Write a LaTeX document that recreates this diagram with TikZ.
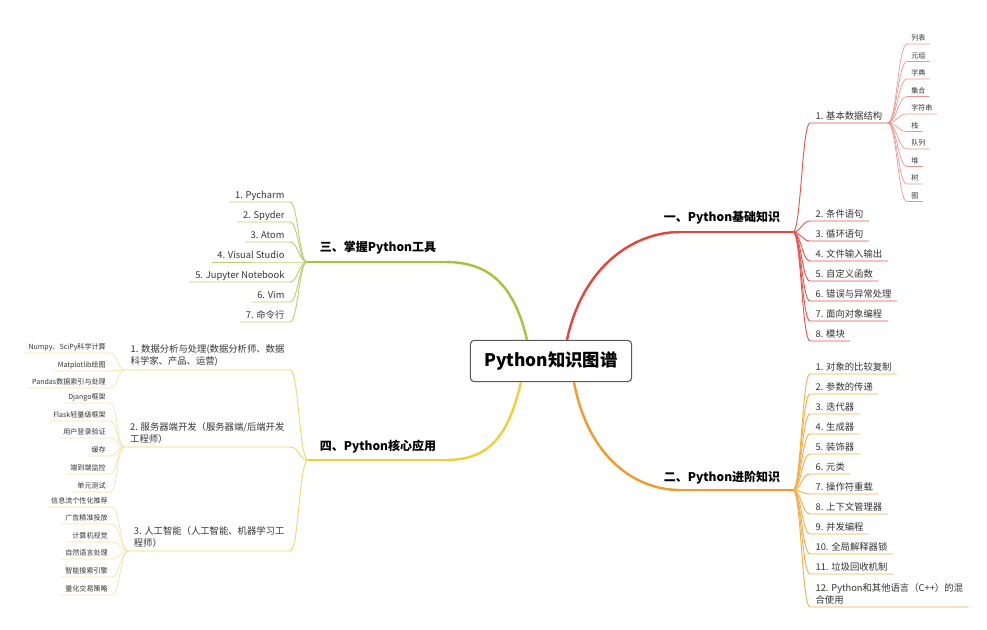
\documentclass[tikz,border=0pt]{standalone}
\usepackage{fontspec}
\setmainfont{Noto Sans CJK SC}
\usetikzlibrary{calc}

\definecolor{redMain}{HTML}{E64539}
\definecolor{redItem}{HTML}{E4574F}
\definecolor{redLeaf}{HTML}{EC9590}
\definecolor{orgMain}{HTML}{F29A2E}
\definecolor{orgItem}{HTML}{F4AE4C}
\definecolor{grnMain}{HTML}{A4C23A}
\definecolor{grnItem}{HTML}{BACF6E}
\definecolor{ylwMain}{HTML}{F0CE3B}
\definecolor{ylwItem}{HTML}{F2D66E}
\definecolor{ylwLeaf}{HTML}{F5E2A6}

\begin{document}
\begin{tikzpicture}[x=0.75pt,y=-0.75pt,
	title/.style={draw=black!65, fill=white, rounded corners=3pt, line width=0.8pt, minimum width=121pt, minimum height=31pt, font=\fontsize{13}{15}\selectfont\bfseries},
	branch/.style={font=\fontsize{9}{11}\selectfont\bfseries},
	long item/.style={inner xsep=4pt, inner ysep=2.2pt, text=black!80, font=\fontsize{7}{9}\selectfont, align=left},
	item/.style={long item, inner ysep=0.7pt, text height=0.88em, text depth=0.15em},
	leaf/.style={inner xsep=3pt, inner ysep=0.7pt, text=black!80, font=\fontsize{5.3}{6.5}\selectfont, text height=0.88em, text depth=0.15em},
	link/.style={line width=0.7pt},
	thin link/.style={line width=0.5pt}]

	\useasboundingbox (0,0) rectangle (987,629);

	\node [title] (title) at (551,361) {Python知识图谱};

	% main branches
	\coordinate (hubA) at (793,232);
	\coordinate (bendA) at (680,232);
	\draw [redMain, line width=1.8pt] ($(title.north)+(16,0)$) .. controls +(16,-75) and +(-45,0) .. (bendA);
	\draw [redMain, line width=1.1pt] (bendA) -- (hubA);
	\node [branch] (lblA) at (722,218) {一、Python基础知识};

	\coordinate (hubB) at (793,490);
	\coordinate (bendB) at (680,490);
	\draw [orgMain, line width=1.8pt] ($(title.south)+(23,0)$) .. controls +(14,75) and +(-45,0) .. (bendB);
	\draw [orgMain, line width=1.1pt] (bendB) -- (hubB);
	\node [branch] (lblB) at (722,478) {二、Python进阶知识};

	\coordinate (hubC) at (307,262);
	\coordinate (bendC) at (445,262);
	\draw [grnMain, line width=1.8pt] ($(title.north)+(-24,0)$) .. controls +(-14,-60) and +(40,0) .. (bendC);
	\draw [grnMain, line width=1.1pt] (bendC) -- (hubC);
	\node [branch] (lblC) at (378,248) {三、掌握Python工具};

	\coordinate (hubD) at (308,460);
	\coordinate (bendD) at (445,460);
	\draw [ylwMain, line width=1.8pt] ($(title.south)+(-30,0)$) .. controls +(-14,60) and +(40,0) .. (bendD);
	\draw [ylwMain, line width=1.1pt] (bendD) -- (hubD);
	\node [branch] (lblD) at (378,447) {四、Python核心应用};

	% 一
	\node [item, anchor=south west] (a1) at (810,123) {1. 基本数据结构};
	\draw [redItem, link] (hubA) .. controls +(8,0) and +(-8,0) .. (a1.south west) -- (a1.south east);
	\node [item, anchor=south west] (a2) at (810,221) {2. 条件语句};
	\draw [redItem, link] (hubA) .. controls +(8,0) and +(-8,0) .. (a2.south west) -- (a2.south east);
	\node [item, anchor=south west] (a3) at (810,241) {3. 循环语句};
	\draw [redItem, link] (hubA) .. controls +(8,0) and +(-8,0) .. (a3.south west) -- (a3.south east);
	\node [item, anchor=south west] (a4) at (810,261) {4. 文件输入输出};
	\draw [redItem, link] (hubA) .. controls +(8,0) and +(-8,0) .. (a4.south west) -- (a4.south east);
	\node [item, anchor=south west] (a5) at (810,281) {5. 自定义函数};
	\draw [redItem, link] (hubA) .. controls +(8,0) and +(-8,0) .. (a5.south west) -- (a5.south east);
	\node [item, anchor=south west] (a6) at (810,301) {6. 错误与异常处理};
	\draw [redItem, link] (hubA) .. controls +(8,0) and +(-8,0) .. (a6.south west) -- (a6.south east);
	\node [item, anchor=south west] (a7) at (810,321) {7. 面向对象编程};
	\draw [redItem, link] (hubA) .. controls +(8,0) and +(-8,0) .. (a7.south west) -- (a7.south east);
	\node [item, anchor=south west] (a8) at (810,341) {8. 模块};
	\draw [redItem, link] (hubA) .. controls +(8,0) and +(-8,0) .. (a8.south west) -- (a8.south east);

	\node [leaf, anchor=south west] (s1) at (907,44) {列表};
	\draw [redLeaf, thin link] (a1.south east) .. controls +(9,0) and +(-9,0) .. (s1.south west) -- (s1.south east);
	\node [leaf, anchor=south west] (s2) at (907,61.5) {元组};
	\draw [redLeaf, thin link] (a1.south east) .. controls +(9,0) and +(-9,0) .. (s2.south west) -- (s2.south east);
	\node [leaf, anchor=south west] (s3) at (907,79) {字典};
	\draw [redLeaf, thin link] (a1.south east) .. controls +(9,0) and +(-9,0) .. (s3.south west) -- (s3.south east);
	\node [leaf, anchor=south west] (s4) at (907,96.5) {集合};
	\draw [redLeaf, thin link] (a1.south east) .. controls +(9,0) and +(-9,0) .. (s4.south west) -- (s4.south east);
	\node [leaf, anchor=south west] (s5) at (907,114) {字符串};
	\draw [redLeaf, thin link] (a1.south east) .. controls +(9,0) and +(-9,0) .. (s5.south west) -- (s5.south east);
	\node [leaf, anchor=south west] (s6) at (907,131.5) {栈};
	\draw [redLeaf, thin link] (a1.south east) .. controls +(9,0) and +(-9,0) .. (s6.south west) -- (s6.south east);
	\node [leaf, anchor=south west] (s7) at (907,149) {队列};
	\draw [redLeaf, thin link] (a1.south east) .. controls +(9,0) and +(-9,0) .. (s7.south west) -- (s7.south east);
	\node [leaf, anchor=south west] (s8) at (907,166.5) {堆};
	\draw [redLeaf, thin link] (a1.south east) .. controls +(9,0) and +(-9,0) .. (s8.south west) -- (s8.south east);
	\node [leaf, anchor=south west] (s9) at (907,184) {树};
	\draw [redLeaf, thin link] (a1.south east) .. controls +(9,0) and +(-9,0) .. (s9.south west) -- (s9.south east);
	\node [leaf, anchor=south west] (s10) at (907,201.5) {图};
	\draw [redLeaf, thin link] (a1.south east) .. controls +(9,0) and +(-9,0) .. (s10.south west) -- (s10.south east);

	% 二
	\node [item, anchor=south west] (b1) at (810,374) {1. 对象的比较复制};
	\draw [orgItem, link] (hubB) .. controls +(8,0) and +(-8,0) .. (b1.south west) -- (b1.south east);
	\node [item, anchor=south west] (b2) at (810,394) {2. 参数的传递};
	\draw [orgItem, link] (hubB) .. controls +(8,0) and +(-8,0) .. (b2.south west) -- (b2.south east);
	\node [item, anchor=south west] (b3) at (810,414) {3. 迭代器};
	\draw [orgItem, link] (hubB) .. controls +(8,0) and +(-8,0) .. (b3.south west) -- (b3.south east);
	\node [item, anchor=south west] (b4) at (810,434) {4. 生成器};
	\draw [orgItem, link] (hubB) .. controls +(8,0) and +(-8,0) .. (b4.south west) -- (b4.south east);
	\node [item, anchor=south west] (b5) at (810,454) {5. 装饰器};
	\draw [orgItem, link] (hubB) .. controls +(8,0) and +(-8,0) .. (b5.south west) -- (b5.south east);
	\node [item, anchor=south west] (b6) at (810,474) {6. 元类};
	\draw [orgItem, link] (hubB) .. controls +(8,0) and +(-8,0) .. (b6.south west) -- (b6.south east);
	\node [item, anchor=south west] (b7) at (810,494) {7. 操作符重载};
	\draw [orgItem, link] (hubB) .. controls +(8,0) and +(-8,0) .. (b7.south west) -- (b7.south east);
	\node [item, anchor=south west] (b8) at (810,514) {8. 上下文管理器};
	\draw [orgItem, link] (hubB) .. controls +(8,0) and +(-8,0) .. (b8.south west) -- (b8.south east);
	\node [item, anchor=south west] (b9) at (810,534) {9. 并发编程};
	\draw [orgItem, link] (hubB) .. controls +(8,0) and +(-8,0) .. (b9.south west) -- (b9.south east);
	\node [item, anchor=south west] (b10) at (810,554) {10. 全局解释器锁};
	\draw [orgItem, link] (hubB) .. controls +(8,0) and +(-8,0) .. (b10.south west) -- (b10.south east);
	\node [item, anchor=south west] (b11) at (810,574) {11. 垃圾回收机制};
	\draw [orgItem, link] (hubB) .. controls +(8,0) and +(-8,0) .. (b11.south west) -- (b11.south east);
	\node [long item, anchor=south west] (b12) at (810,607) {12. Python和其他语言（C++）的混\\合使用};
	\draw [orgItem, link] (hubB) .. controls +(8,0) and +(-8,0) .. (b12.south west) -- (b12.south east);

	% 三
	\node [item, anchor=south east] (c1) at (290,202) {1. Pycharm};
	\draw [grnItem, link] (hubC) .. controls +(-8,0) and +(8,0) .. (c1.south east) -- (c1.south west);
	\node [item, anchor=south east] (c2) at (290,222) {2. Spyder};
	\draw [grnItem, link] (hubC) .. controls +(-8,0) and +(8,0) .. (c2.south east) -- (c2.south west);
	\node [item, anchor=south east] (c3) at (290,242) {3. Atom};
	\draw [grnItem, link] (hubC) .. controls +(-8,0) and +(8,0) .. (c3.south east) -- (c3.south west);
	\node [item, anchor=south east] (c4) at (290,262) {4. Visual Studio};
	\draw [grnItem, link] (hubC) .. controls +(-8,0) and +(8,0) .. (c4.south east) -- (c4.south west);
	\node [item, anchor=south east] (c5) at (290,282) {5. Jupyter Notebook};
	\draw [grnItem, link] (hubC) .. controls +(-8,0) and +(8,0) .. (c5.south east) -- (c5.south west);
	\node [item, anchor=south east] (c6) at (290,302) {6. Vim};
	\draw [grnItem, link] (hubC) .. controls +(-8,0) and +(8,0) .. (c6.south east) -- (c6.south west);
	\node [item, anchor=south east] (c7) at (290,322) {7. 命令行};
	\draw [grnItem, link] (hubC) .. controls +(-8,0) and +(8,0) .. (c7.south east) -- (c7.south west);

	% 四
	\node [long item, anchor=south east] (d1) at (290,370) {1. 数据分析与处理(数据分析师、数据\\科学家、产品、运营)};
	\draw [ylwItem, link] (hubD) .. controls +(-9,0) and +(9,0) .. (d1.south east) -- (d1.south west);
	\node [long item, anchor=south east] (d2) at (290,447) {2. 服务器端开发（服务器端/后端开发\\工程师）};
	\draw [ylwItem, link] (hubD) .. controls +(-9,0) and +(9,0) .. (d2.south east) -- (d2.south west);
	\node [long item, anchor=south east] (d3) at (290,551) {3. 人工智能（人工智能、机器学习工\\程师）};
	\draw [ylwItem, link] (hubD) .. controls +(-9,0) and +(9,0) .. (d3.south east) -- (d3.south west);

	\node [leaf, anchor=south east] (e1) at (110,353) {Numpy、SciPy科学计算};
	\draw [ylwLeaf, thin link] (d1.south west) .. controls +(-8,0) and +(8,0) .. (e1.south east) -- (e1.south west);
	\node [leaf, anchor=south east] (e2) at (110,371) {Matplotlib绘图};
	\draw [ylwLeaf, thin link] (d1.south west) .. controls +(-8,0) and +(8,0) .. (e2.south east) -- (e2.south west);
	\node [leaf, anchor=south east] (e3) at (110,388) {Pandas数据索引与处理};
	\draw [ylwLeaf, thin link] (d1.south west) .. controls +(-8,0) and +(8,0) .. (e3.south east) -- (e3.south west);

	\node [leaf, anchor=south east] (f1) at (110,403) {Django框架};
	\draw [ylwLeaf, thin link] (d2.south west) .. controls +(-8,0) and +(8,0) .. (f1.south east) -- (f1.south west);
	\node [leaf, anchor=south east] (f2) at (110,421) {Flask轻量级框架};
	\draw [ylwLeaf, thin link] (d2.south west) .. controls +(-8,0) and +(8,0) .. (f2.south east) -- (f2.south west);
	\node [leaf, anchor=south east] (f3) at (110,438) {用户登录验证};
	\draw [ylwLeaf, thin link] (d2.south west) .. controls +(-8,0) and +(8,0) .. (f3.south east) -- (f3.south west);
	\node [leaf, anchor=south east] (f4) at (110,456) {缓存};
	\draw [ylwLeaf, thin link] (d2.south west) .. controls +(-8,0) and +(8,0) .. (f4.south east) -- (f4.south west);
	\node [leaf, anchor=south east] (f5) at (110,474) {端到端监控};
	\draw [ylwLeaf, thin link] (d2.south west) .. controls +(-8,0) and +(8,0) .. (f5.south east) -- (f5.south west);
	\node [leaf, anchor=south east] (f6) at (110,492) {单元测试};
	\draw [ylwLeaf, thin link] (d2.south west) .. controls +(-8,0) and +(8,0) .. (f6.south east) -- (f6.south west);

	\node [leaf, anchor=south east] (g1) at (112,507) {信息流个性化推荐};
	\draw [ylwLeaf, thin link] (d3.south west) .. controls +(-8,0) and +(8,0) .. (g1.south east) -- (g1.south west);
	\node [leaf, anchor=south east] (g2) at (112,524) {广告精准投放};
	\draw [ylwLeaf, thin link] (d3.south west) .. controls +(-8,0) and +(8,0) .. (g2.south east) -- (g2.south west);
	\node [leaf, anchor=south east] (g3) at (112,542) {计算机视觉};
	\draw [ylwLeaf, thin link] (d3.south west) .. controls +(-8,0) and +(8,0) .. (g3.south east) -- (g3.south west);
	\node [leaf, anchor=south east] (g4) at (112,559) {自然语言处理};
	\draw [ylwLeaf, thin link] (d3.south west) .. controls +(-8,0) and +(8,0) .. (g4.south east) -- (g4.south west);
	\node [leaf, anchor=south east] (g5) at (112,577) {智能搜索引擎};
	\draw [ylwLeaf, thin link] (d3.south west) .. controls +(-8,0) and +(8,0) .. (g5.south east) -- (g5.south west);
	\node [leaf, anchor=south east] (g6) at (112,595) {量化交易策略};
	\draw [ylwLeaf, thin link] (d3.south west) .. controls +(-8,0) and +(8,0) .. (g6.south east) -- (g6.south west);

\end{tikzpicture}
\end{document}
